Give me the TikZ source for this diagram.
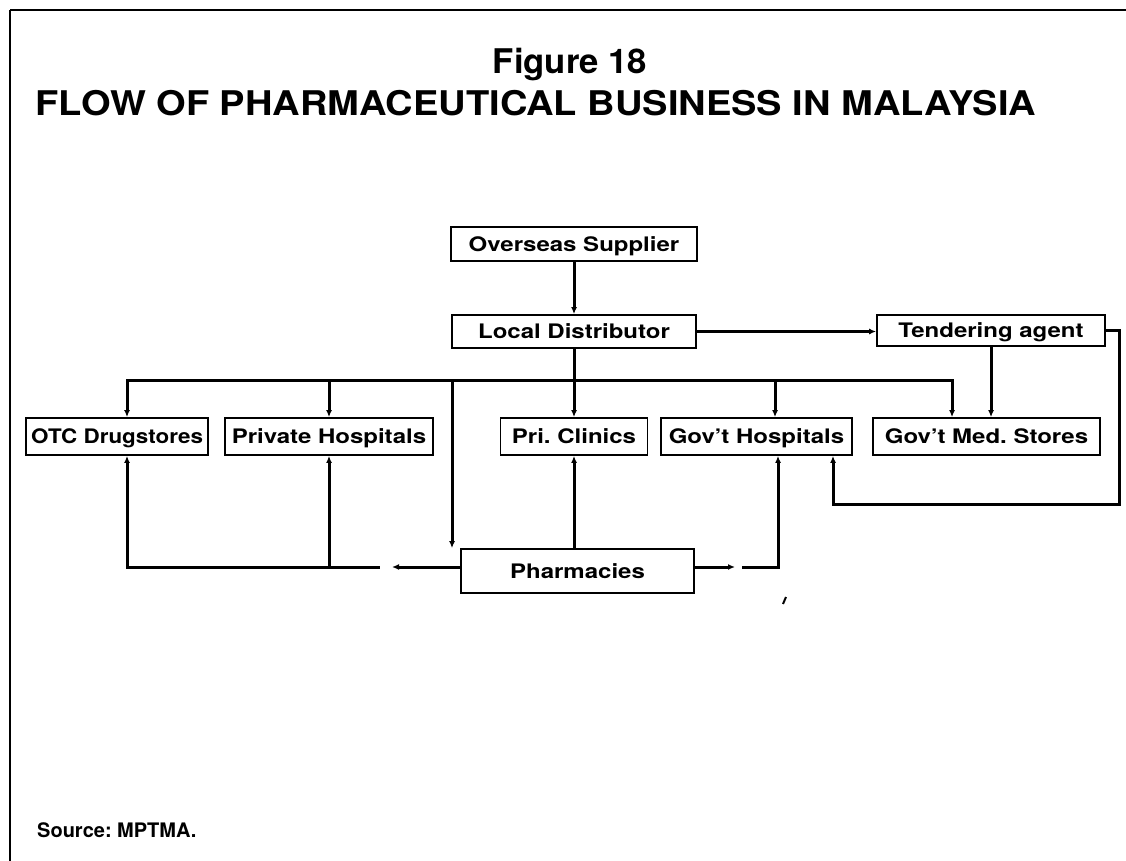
\documentclass[tikz,border=0pt]{standalone}
\usepackage{fontspec}
\setmainfont{TeX Gyre Heros}
\usetikzlibrary{arrows.meta,calc}
\newcommand{\wtext}[2][1.2]{\scalebox{#1}[1]{#2}}
\begin{document}
\frenchspacing
\begin{tikzpicture}[x=1pt,y=-1pt,
  box/.style={draw, line width=1.8pt, inner sep=0pt, text height=14.5pt, text depth=0pt, font=\fontsize{20}{22}\selectfont\bfseries},
  conn/.style={line width=3pt, line join=miter},
  arr/.style={conn, -{Latex[length=7pt,width=6pt]}},
  rarr/.style={conn, {Latex[length=7pt,width=6pt]}-},
  barr/.style={conn, {Latex[length=7pt,width=6pt]}-{Latex[length=7pt,width=6pt]}},
  ttl/.style={font=\fontsize{34}{38}\selectfont\bfseries, inner sep=0pt}]
\useasboundingbox (0,0) rectangle (1126,861);
% frame
\draw[line width=2.5pt] (10,10) -- (1126,10);
\draw[line width=2.5pt] (10,10) -- (10,861);
% titles
\node[ttl] (fig) at (570,65) {\wtext[1.02]{Figure 18}};
\node[ttl] (title) at (536,103) {\wtext[1.12]{FLOW OF PHARMACEUTICAL BUSINESS IN MALAYSIA}};
\node[font=\fontsize{20}{24}\selectfont\bfseries, inner sep=0pt, anchor=west] (src) at (37,830) {Source: MPTMA.};
% boxes
\node[box, minimum width=246pt, minimum height=34pt] (os) at (574,244) {\wtext{Overseas Supplier}};
\node[box, minimum width=244pt, minimum height=33pt] (ld) at (574,331.5) {\wtext{Local Distributor}};
\node[box, minimum width=228pt, minimum height=31pt] (ta) at (991,330.5) {\wtext{Tendering agent}};
\node[box, minimum width=182pt, minimum height=37pt] (otc) at (117,436.5) {\wtext[1.12]{OTC Drugstores}};
\node[box, minimum width=208pt, minimum height=37pt] (pvt) at (329,436.5) {\wtext{Private Hospitals}};
\node[box, minimum width=147pt, minimum height=37pt] (pcl) at (574,436.5) {\wtext{Pri. Clinics}};
\node[box, minimum width=191pt, minimum height=37pt] (gh) at (756.5,436.5) {\wtext{Gov't Hospitals}};
\node[box, minimum width=227pt, minimum height=37pt] (gms) at (986.5,436.5) {\wtext{Gov't Med. Stores}};
\node[box, minimum width=233pt, minimum height=44pt] (ph) at (577.5,571) {\wtext{Pharmacies}};
% coordinates
\coordinate (busL) at (127,380);
\coordinate (busR) at (952,380);
\coordinate (d4) at (452,380);
\coordinate (d5) at (775,380);
\coordinate (lp) at (1119,504);
\coordinate (lq) at (833,504);
\coordinate (bl) at (127,567);
\coordinate (ba) at (392,567);
\coordinate (bb) at (380,567);
\coordinate (br) at (778,567);
\coordinate (ra) at (735,567);
\coordinate (rb) at (742,567);
% connectors
\draw[arr] (os.south) -- (ld.north);
\draw[arr] (ld.east) -- (ld.east -| ta.west);
\draw[arr] (ld.south) -- (pcl.north);
\draw[barr] (busL |- otc.north) -- (busL) -- (busR) -- (busR |- gms.north);
\draw[arr] (pvt.north |- busL) -- (pvt.north);
\draw[arr] (d4) -- (d4 |- ph.north);
\draw[arr] (d5) -- (d5 |- gh.north);
\draw[arr] (ta.south) -- (ta.south |- gms.north);
\draw[arr] (ta.east) -| (lp) -- (lq) -- (lq |- gh.south);
\draw[arr] (bl -| ph.west) -- (ba);
\draw[rarr] (bl |- otc.south) -- (bl) -- (bb);
\draw[arr] (bl -| pvt.south) -- (pvt.south);
\draw[arr] (ph.north -| pcl.south) -- (pcl.south);
\draw[arr] (bl -| ph.east) -- (ra);
\draw[arr] (rb) -- (br) -- (br |- gh.south);
% stray scan mark
\draw[line width=2pt] (783,604) -- (786,597);
\end{tikzpicture}
\end{document}
